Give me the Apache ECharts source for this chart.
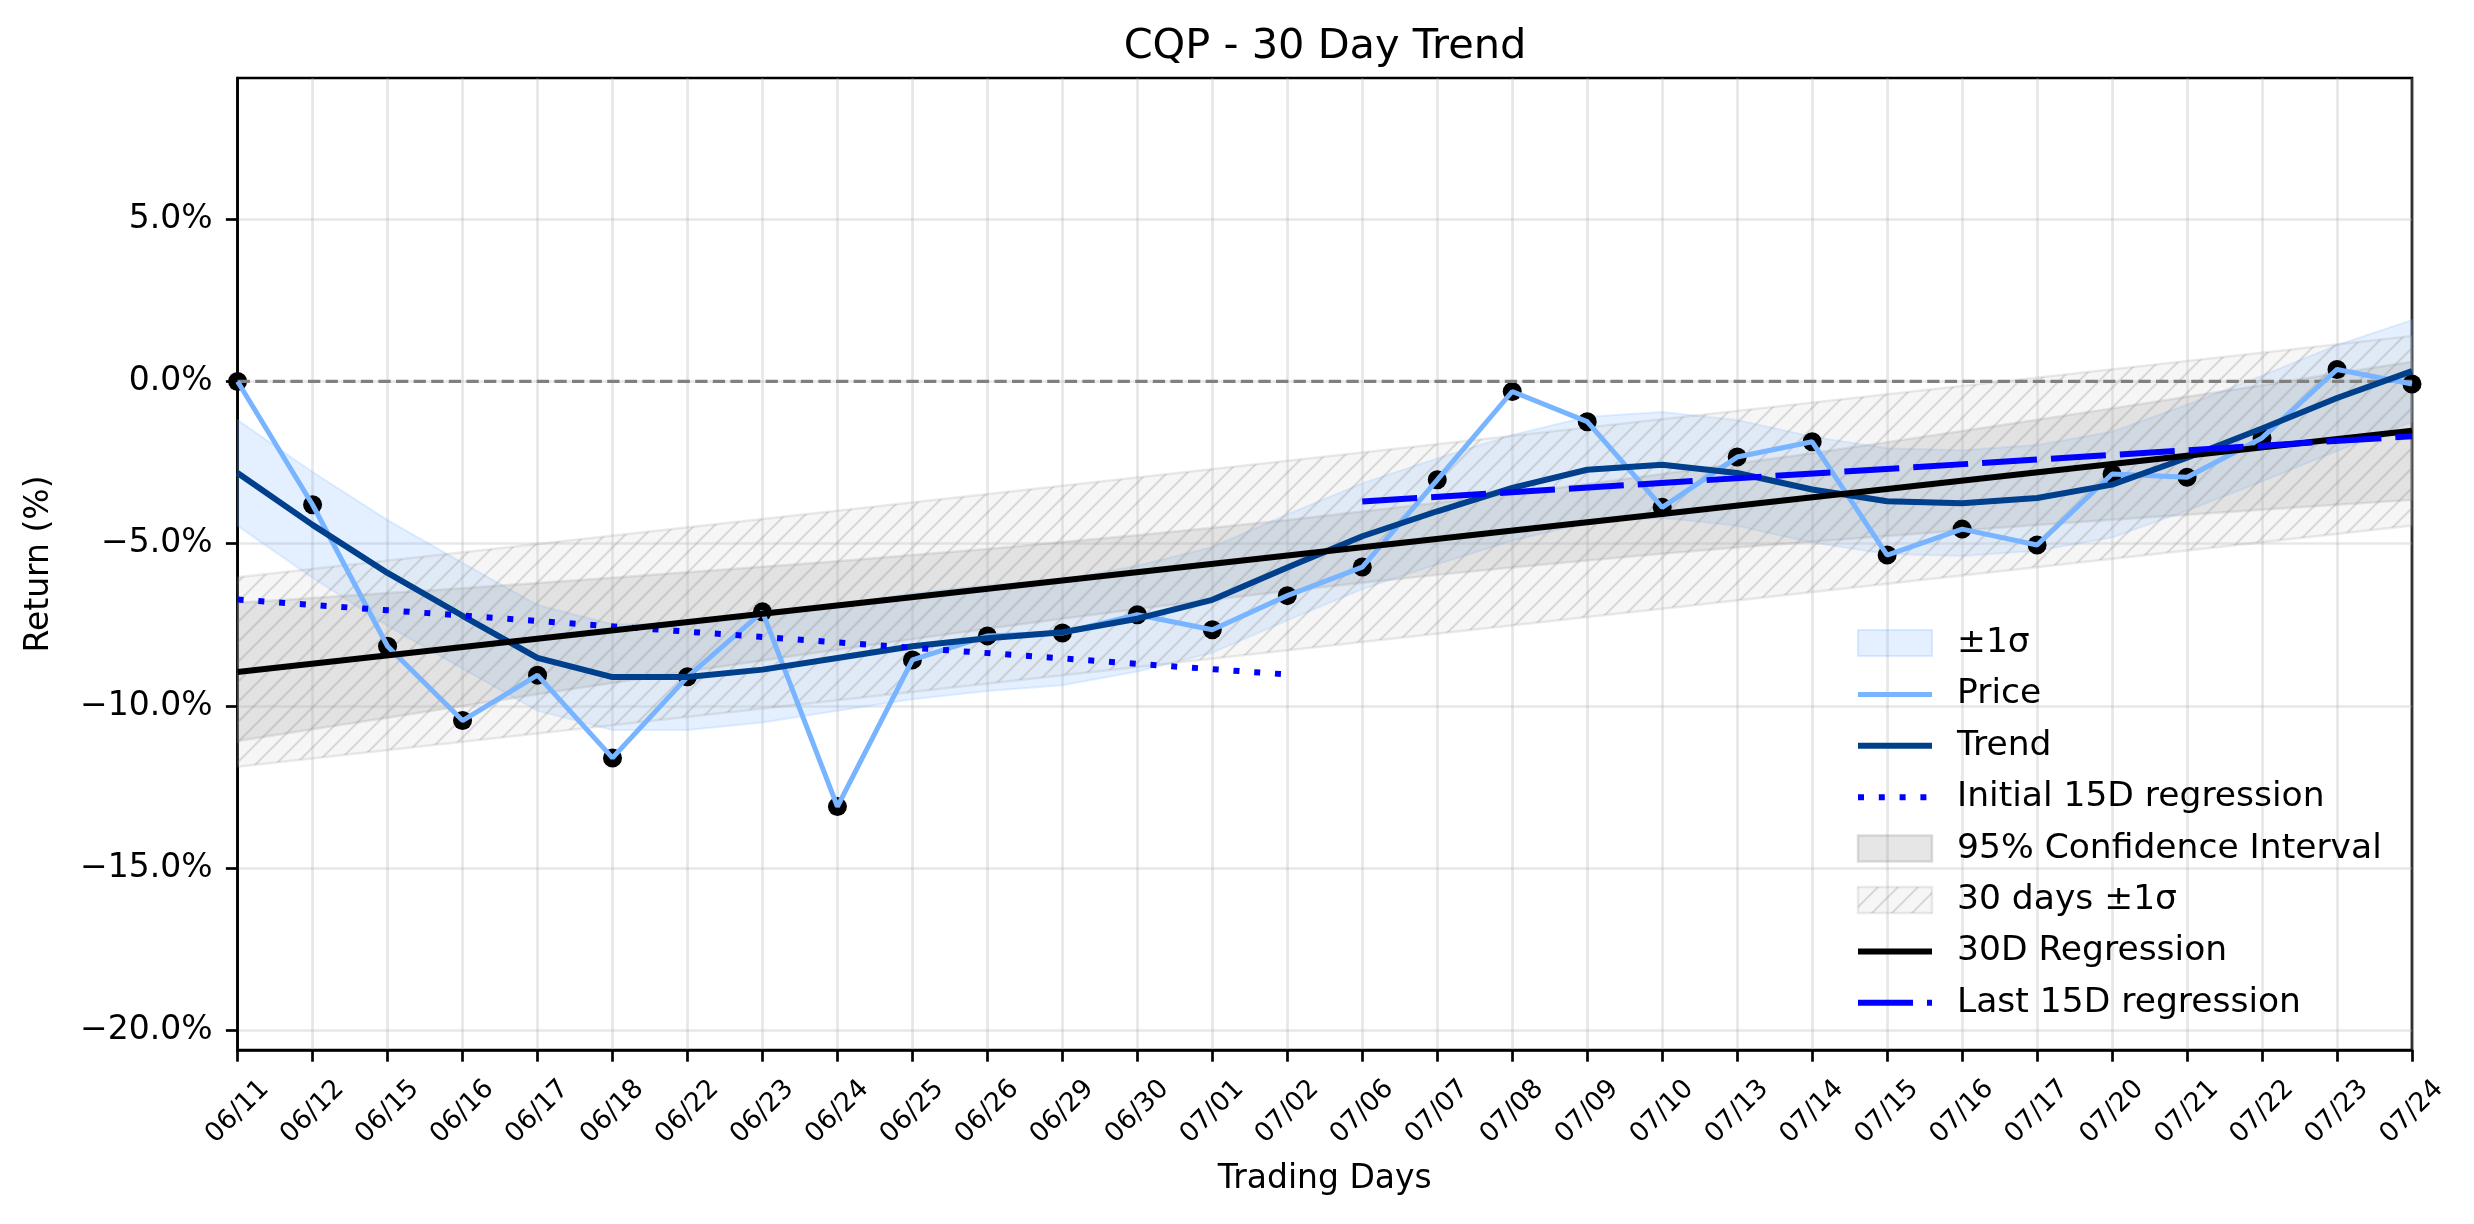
<!DOCTYPE html>
<html><head><meta charset="utf-8">
<script src="https://cdn.jsdelivr.net/npm/echarts@6/dist/echarts.min.js"></script>
<style>html,body{margin:0;padding:0;background:#fff}#c{width:2474px;height:1224px}</style>
</head><body><div id="c"></div>
<script>
const dates = ['06/11','06/12','06/15','06/16','06/17','06/18','06/22','06/23','06/24','06/25','06/26','06/29','06/30','07/01','07/02','07/06','07/07','07/08','07/09','07/10','07/13','07/14','07/15','07/16','07/17','07/20','07/21','07/22','07/23','07/24'];
const price = [0.00,-3.80,-8.16,-10.45,-9.05,-11.60,-9.10,-7.10,-13.10,-8.58,-7.84,-7.75,-7.19,-7.65,-6.60,-5.72,-3.03,-0.31,-1.24,-3.88,-2.33,-1.86,-5.35,-4.55,-5.04,-2.85,-2.95,-1.74,0.37,-0.08];
const trend = [-2.82,-4.42,-5.90,-7.22,-8.52,-9.11,-9.11,-8.88,-8.52,-8.16,-7.91,-7.73,-7.31,-6.73,-5.73,-4.77,-4.00,-3.28,-2.72,-2.57,-2.82,-3.33,-3.69,-3.75,-3.59,-3.18,-2.35,-1.45,-0.51,0.32];
const sigmaUpper = [-1.19,-2.79,-4.27,-5.59,-6.89,-7.48,-7.48,-7.25,-6.89,-6.53,-6.28,-6.10,-5.68,-5.10,-4.10,-3.14,-2.37,-1.65,-1.09,-0.94,-1.19,-1.70,-2.06,-2.12,-1.96,-1.55,-0.72,0.18,1.12,1.89];
const sigmaLower = [-4.45,-6.05,-7.53,-8.85,-10.15,-10.74,-10.74,-10.51,-10.15,-9.79,-9.54,-9.36,-8.94,-8.36,-7.36,-6.40,-5.63,-4.91,-4.35,-4.20,-4.45,-4.96,-5.32,-5.38,-5.22,-4.81,-3.98,-3.08,-2.14,-1.25];
const ciUpper = [-6.82,-6.67,-6.52,-6.37,-6.21,-6.05,-5.88,-5.71,-5.54,-5.35,-5.16,-4.95,-4.74,-4.51,-4.27,-4.01,-3.74,-3.46,-3.16,-2.85,-2.53,-2.21,-1.87,-1.53,-1.18,-0.83,-0.47,-0.12,0.25,0.61];
const ciLower = [-11.08,-10.72,-10.36,-10.00,-9.64,-9.29,-8.94,-8.60,-8.27,-7.94,-7.62,-7.31,-7.01,-6.73,-6.46,-6.20,-5.96,-5.73,-5.52,-5.31,-5.12,-4.94,-4.76,-4.59,-4.42,-4.26,-4.11,-3.95,-3.80,-3.65];
const band30Days = [0, 29];
const band30Upper = [-6.03, 1.40];
const band30Lower = [-11.87, -4.44];
const reg30Days = [0, 29];
const reg30 = [-8.95, -1.52];
const regInitialDays = [0, 14];
const regInitial = [-6.72, -9.03];
const regLastDays = [15, 29];
const regLast = [-3.70, -1.69];
const zeroLineDays = [0, 29];
const zeroLine = [0, 0];
const yTicks = [-20, -15, -10, -5, 0, 5];
const yMin = -20.6, yMax = 9.35;

const FONT = 'DejaVu Sans';
const allIdx = dates.map((d, i) => i);

// hatch pattern
const hc = document.createElement('canvas');
hc.width = 20; hc.height = 20;
const hx = hc.getContext('2d');
hx.fillStyle = 'rgba(211,211,211,0.2)';
hx.fillRect(0, 0, 20, 20);
hx.strokeStyle = 'rgba(128,128,128,0.26)';
hx.lineWidth = 2;
hx.beginPath();
hx.moveTo(-2, 22); hx.lineTo(22, -2);
hx.moveTo(-2, 2); hx.lineTo(2, -2);
hx.moveTo(18, 22); hx.lineTo(22, 18);
hx.stroke();
const hatchFill = { image: hc, repeat: 'repeat' };

function bandSeries(name, xs, upper, lower, style) {
  return {
    type: 'custom', name: name, data: [[0, 0]], clip: true, silent: true,
    renderItem: function (params, api) {
      const pts = [];
      for (let k = 0; k < xs.length; k++) pts.push(api.coord([xs[k], upper[k]]));
      for (let k = xs.length - 1; k >= 0; k--) pts.push(api.coord([xs[k], lower[k]]));
      return { type: 'polygon', shape: { points: pts }, style: style };
    }
  };
}
function pairs(xs, ys) { return xs.map((x, k) => [x, ys[k]]); }

const sigmaStyle = { fill: 'rgba(120,180,255,0.2)', stroke: 'rgba(120,180,255,0.2)', lineWidth: 2 };
const ciStyle = { fill: 'rgba(128,128,128,0.2)', stroke: 'rgba(128,128,128,0.2)', lineWidth: 2.5 };
const hatchStyle = { fill: hatchFill, stroke: 'rgba(128,128,128,0.16)', lineWidth: 2.5 };

const chart = echarts.init(document.getElementById('c'), null, { renderer: 'canvas' });
chart.setOption({
  animation: false,
  backgroundColor: '#fff',
  textStyle: { fontFamily: FONT },
  title: {
    text: 'CQP - 30 Day Trend', left: 1320, top: 21, textAlign: 'center',
    textStyle: { fontFamily: FONT, fontSize: 41.5, fontWeight: 'normal', color: '#000' }
  },
  grid: { left: 237.6, right: 62, top: 78, bottom: 174, show: true, borderColor: '#000', borderWidth: 2.7, backgroundColor: 'transparent' },
  legend: {
    orient: 'vertical', left: 1850, top: 618, padding: 5,
    itemWidth: 74, itemHeight: 26, itemGap: 11.4, selectedMode: false,
    textStyle: { fontFamily: FONT, fontSize: 34.5, color: '#000', lineHeight: 40, padding: [0, 0, 0, 20] },
    lineStyle: { width: 'inherit', type: 'inherit' },
    itemStyle: { opacity: 0 },
    data: [
      { name: '±1σ', icon: 'rect', itemStyle: { opacity: 1, color: 'rgba(120,180,255,0.2)', borderColor: 'rgba(120,180,255,0.25)', borderWidth: 2 } },
      { name: 'Price' },
      { name: 'Trend' },
      { name: 'Initial 15D regression' },
      { name: '95% Confidence Interval', icon: 'rect', itemStyle: { opacity: 1, color: 'rgba(128,128,128,0.2)', borderColor: 'rgba(128,128,128,0.25)', borderWidth: 2.5 } },
      { name: '30 days ±1σ', icon: 'rect', itemStyle: { opacity: 1, color: hatchFill, borderColor: 'rgba(128,128,128,0.16)', borderWidth: 2.5 } },
      { name: '30D Regression' },
      { name: 'Last 15D regression' }
    ]
  },
  xAxis: {
    type: 'category', data: dates, boundaryGap: false,
    name: 'Trading Days', nameLocation: 'middle', nameGap: 113,
    nameTextStyle: { fontFamily: FONT, fontSize: 33, color: '#000', verticalAlign: 'top' },
    axisLine: { show: true, onZero: false, lineStyle: { color: '#000', width: 2.7 } },
    axisTick: { show: true, interval: 0, length: 11.7, lineStyle: { color: '#000', width: 2.7 } },
    axisLabel: { interval: 0, rotate: 45, fontFamily: FONT, fontSize: 26.7, color: '#000', margin: 62, align: 'center', verticalAlign: 'middle' },
    splitLine: { show: true, interval: 0, lineStyle: { color: 'rgba(176,176,176,0.3)', width: 2.7 } }
  },
  yAxis: {
    type: 'value', min: yMin, max: yMax, splitNumber: 6,
    name: 'Return (%)', nameLocation: 'middle', nameGap: 182, nameRotate: 90,
    nameTextStyle: { fontFamily: FONT, fontSize: 33, color: '#000' },
    axisLine: { show: true, onZero: false, lineStyle: { color: '#000', width: 2.7 } },
    axisTick: { show: true, length: 11.7, customValues: yTicks, lineStyle: { color: '#000', width: 2.7 } },
    axisLabel: {
      customValues: yTicks, fontFamily: FONT, fontSize: 33, color: '#000', margin: 25,
      formatter: v => (v < 0 ? '\u2212' : '') + Math.abs(v).toFixed(1) + '%'
    },
    splitLine: { show: true, lineStyle: { color: 'rgba(176,176,176,0.3)', width: 2.7 } }
  },
  series: [
    bandSeries('±1σ', allIdx, sigmaUpper, sigmaLower, sigmaStyle),
    {
      type: 'line', name: 'zero', data: pairs(zeroLineDays, zeroLine), symbol: 'none', showSymbol: false, silent: true,
      lineStyle: { color: '#808080', type: [12.3, 5.3], width: 3.3, cap: 'butt' }, itemStyle: { color: '#808080' }
    },
    {
      type: 'line', name: 'Price', data: price, symbol: 'none', showSymbol: false,
      lineStyle: { color: '#78b4ff', width: 5 }, itemStyle: { color: '#78b4ff' }
    },
    {
      type: 'line', name: 'Trend', data: trend, symbol: 'none', showSymbol: false,
      lineStyle: { color: '#003f8c', width: 6 }, itemStyle: { color: '#003f8c' }
    },
    {
      type: 'line', name: 'Initial 15D regression', data: pairs(regInitialDays, regInitial), symbol: 'none', showSymbol: false,
      lineStyle: { color: '#0000ff', width: 6, type: [6, 14.8], cap: 'butt' }, itemStyle: { color: '#0000ff' }
    },
    bandSeries('95% Confidence Interval', allIdx, ciUpper, ciLower, ciStyle),
    bandSeries('30 days ±1σ', band30Days, band30Upper, band30Lower, hatchStyle),
    {
      type: 'line', name: '30D Regression', data: pairs(reg30Days, reg30), symbol: 'none', showSymbol: false,
      lineStyle: { color: '#000000', width: 6 }, itemStyle: { color: '#000000' }
    },
    {
      type: 'line', name: 'Last 15D regression', data: pairs(regLastDays, regLast), symbol: 'none', showSymbol: false,
      lineStyle: { color: '#0000ff', width: 6, type: [55, 14], cap: 'butt' }, itemStyle: { color: '#0000ff' }
    },
    {
      type: 'scatter', name: 'points', data: price, symbol: 'circle', symbolSize: 19,
      itemStyle: { color: '#000', opacity: 1 }, silent: true, clip: false
    }
  ]
});
</script></body></html>
